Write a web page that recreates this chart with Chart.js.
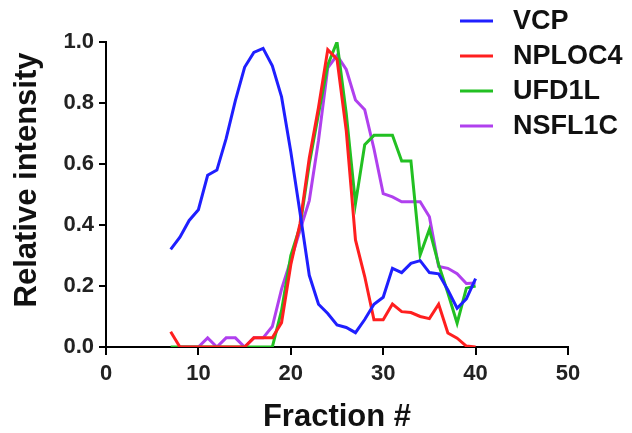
<!DOCTYPE html>
<html>
<head>
<meta charset="utf-8">
<script src="https://cdn.jsdelivr.net/npm/chart.js@4"></script>
<style>
  html, body { margin: 0; padding: 0; background: #fff; }
  #wrap { width: 632px; height: 433px; }
</style>
</head>
<body>
<div id="wrap"><canvas id="chart" width="632" height="433"></canvas></div>
<script>
const fractions = [7, 8, 9, 10, 11, 12, 13, 14, 15, 16, 17, 18, 19, 20, 21, 22, 23,
  24, 25, 26, 27, 28, 29, 30, 31, 32, 33, 34, 35, 36, 37, 38, 39, 40];

const vcp = [0.32, 0.36, 0.415, 0.45, 0.563, 0.58, 0.683, 0.808, 0.917, 0.966, 0.979, 0.922,
  0.82, 0.64, 0.44, 0.235, 0.14, 0.11, 0.072, 0.064, 0.047, 0.09, 0.14, 0.163,
  0.258, 0.244, 0.274, 0.283, 0.244, 0.24, 0.187, 0.127, 0.158, 0.224];

const nploc4 = [0.05, 0, 0, 0, 0, 0, 0, 0, 0, 0.03, 0.03, 0.03,
  0.08, 0.27, 0.405, 0.62, 0.786, 0.975, 0.944, 0.71, 0.351, 0.231, 0.089, 0.089,
  0.141, 0.116, 0.113, 0.1, 0.093, 0.14, 0.046, 0.029, 0.003, 0];

const ufd1l = [0, 0, 0, 0, 0, 0, 0, 0, 0, 0, 0, 0,
  0.12, 0.3, 0.395, 0.6, 0.765, 0.925, 1.0, 0.766, 0.47, 0.663, 0.694, 0.694,
  0.694, 0.61, 0.61, 0.302, 0.386, 0.27, 0.177, 0.078, 0.193, 0.2];

const nsfl1c = [null, 0, 0, 0, 0.03, 0, 0.03, 0.03, 0, 0.03, 0.03, 0.067,
  0.19, 0.285, 0.383, 0.48, 0.678, 0.915, 0.956, 0.91, 0.81, 0.778, 0.65, 0.503,
  0.492, 0.476, 0.476, 0.476, 0.427, 0.264, 0.258, 0.24, 0.208, 0.21];

const seriesNames = ["VCP", "NPLOC4", "UFD1L", "NSFL1C"];
const seriesColors = ["#1f1fff", "#ff1f1f", "#22c022", "#b040ee"];
const xTicks = [0, 10, 20, 30, 40, 50];
const yTicks = [0, 0.2, 0.4, 0.6, 0.8, 1.0];

const FONT = "'Liberation Sans', Arial, sans-serif";

function points(values) {
  return fractions.map((f, i) => ({ x: f, y: values[i] }));
}

// legend + rotated y title drawn by hand so they sit where the original has them
const extras = {
  id: "extras",
  afterDraw(chart) {
    const c = chart.ctx;
    c.save();
    chart.data.datasets.forEach((ds, i) => {
      const y = 21 + i * 35;
      c.strokeStyle = ds.borderColor;
      c.lineWidth = 3;
      c.beginPath();
      c.moveTo(460, y);
      c.lineTo(493, y);
      c.stroke();
      c.fillStyle = "#111";
      c.font = "bold 27px " + FONT;
      c.textAlign = "left";
      c.textBaseline = "middle";
      c.fillText(ds.label, 513, y + 1);
    });
    c.translate(26, 180);
    c.rotate(-Math.PI / 2);
    c.font = "bold 31px " + FONT;
    c.fillStyle = "#111";
    c.textAlign = "center";
    c.textBaseline = "middle";
    c.fillText("Relative intensity", 0, 1);
    c.restore();
  }
};

const ctx = document.getElementById("chart").getContext("2d");
new Chart(ctx, {
  type: "line",
  data: {
    datasets: [vcp, nploc4, ufd1l, nsfl1c].map((vals, i) => ({
      label: seriesNames[i],
      data: points(vals),
      borderColor: seriesColors[i],
      backgroundColor: seriesColors[i],
      borderWidth: 3,
      pointRadius: 0,
      tension: 0,
      fill: false
    }))
  },
  options: {
    responsive: false,
    animation: false,
    layout: { padding: { left: 0, top: 42, right: 64, bottom: 0 } },
    plugins: { legend: { display: false }, tooltip: { enabled: false } },
    scales: {
      x: {
        type: "linear",
        min: 0,
        max: 50,
        afterBuildTicks: s => { s.ticks = xTicks.map(v => ({ value: v })); },
        afterFit: s => { s.height = 86; },
        grid: { drawOnChartArea: false, drawTicks: true, tickLength: 8, color: "#000", lineWidth: 2 },
        border: { display: true, color: "#000", width: 2 },
        ticks: { color: "#222", font: { family: FONT, size: 22, weight: "bold" }, padding: 6, maxRotation: 0 },
        title: { display: true, text: "Fraction #", color: "#111",
          font: { family: FONT, size: 31, weight: "bold", lineHeight: 1 }, padding: { top: 0, bottom: 0 } }
      },
      y: {
        min: 0,
        max: 1,
        afterBuildTicks: s => { s.ticks = yTicks.map(v => ({ value: v })); },
        afterFit: s => { s.width = 106; },
        grid: { drawOnChartArea: false, drawTicks: true, tickLength: 7, color: "#000", lineWidth: 2 },
        border: { display: true, color: "#000", width: 2 },
        ticks: { color: "#222", font: { family: FONT, size: 22, weight: "bold" }, padding: 5,
          callback: v => v.toFixed(1) }
      }
    }
  },
  plugins: [extras]
});
</script>
</body>
</html>
